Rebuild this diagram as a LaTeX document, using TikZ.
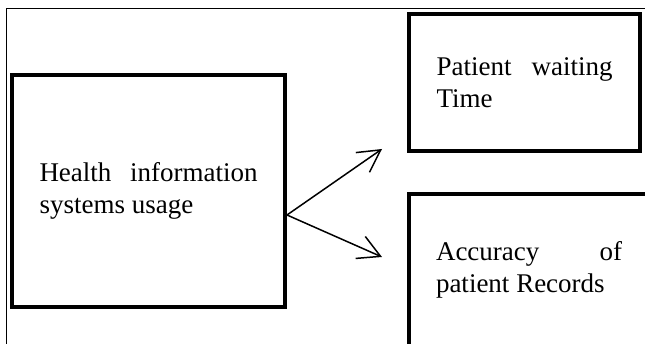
\documentclass[tikz,border=0pt]{standalone}
\usepackage{fontspec}
\setmainfont{Liberation Serif}
\usetikzlibrary{arrows.meta}

\begin{document}
\begin{tikzpicture}[x=1pt,y=1pt,
  block/.style={draw,line width=4pt,rectangle,inner sep=0pt,align=justify,
    font=\fontsize{27}{32}\selectfont,
    execute at begin node={\tolerance=10000\hbadness=10000\hyphenpenalty=10000}},
  link/.style={line width=1.5pt,-{Straight Barb[length=22pt,width=24pt]}}]
\clip (0,0) rectangle (645,344);
\draw[line width=1pt] (6.5,0) -- (6.5,335) -- (645,335);
\node[block,minimum width=273pt,minimum height=232pt,text width=218pt] (hisu) at (148.5,153) {Health information systems usage};
\node[block,minimum width=231pt,minimum height=137pt,text width=176pt] (wait) at (524.5,261.5) {Patient waiting Time};
\node[block,minimum width=240pt,minimum height=152pt,text width=186pt] (acc) at (529,74) {Accuracy of patient Records};
\coordinate (src) at ([yshift=-24pt]hisu.east);
\coordinate (waitend) at (382,195);
\coordinate (accend) at (382,87);
\draw[link] (src) -- (waitend);
\draw[link] (src) -- (accend);
\end{tikzpicture}
\end{document}
